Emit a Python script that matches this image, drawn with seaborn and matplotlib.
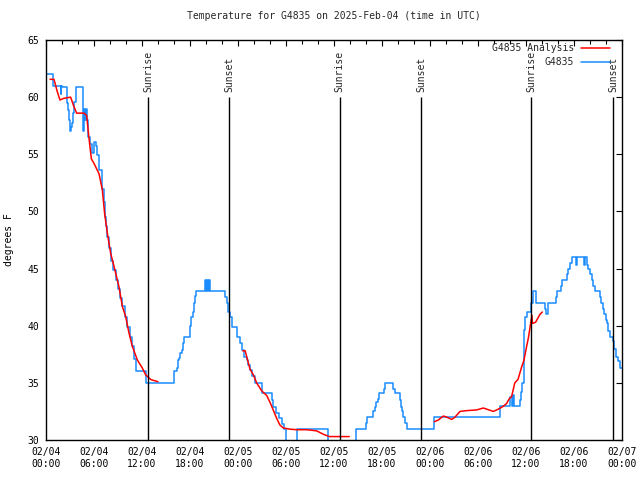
import matplotlib
matplotlib.use('Agg')
import matplotlib.dates as mdates
import matplotlib.pyplot as plt
import pandas as pd
import seaborn as sns

start = pd.Timestamp('2025-02-04 00:00')

# station observations (hours since start, deg F)
obs_hours = [0.0, 0.92, 1.83, 1.9, 2.04, 2.58, 2.7, 2.875, 3.0, 3.08, 3.2, 3.4, 3.55, 3.71,
             4.6, 4.75, 4.85, 4.95, 5.08, 5.25, 5.5, 5.79, 6.0, 6.2, 6.4, 6.6, 7.04, 7.2,
             7.35, 7.55, 7.67, 7.9, 8.08, 8.4, 8.71, 9.0, 9.3, 9.54, 9.85, 10.17, 10.5,
             10.8, 11.0, 11.2, 12.46, 16.04, 16.33, 16.5, 16.67, 16.8, 16.96, 17.1, 17.25,
             18.0, 18.15, 18.33, 18.45, 18.6, 18.75, 19.875, 20.0, 20.1, 20.25, 20.35, 20.5,
             22.375, 22.6, 22.8, 23.0, 23.2, 23.83, 24.25, 24.5, 24.8, 25.08, 25.3, 25.5,
             25.8, 26.1, 26.96, 28.2, 28.4, 28.8, 29.1, 29.46, 29.7, 29.95, 31.33, 35.3,
             38.7, 39.96, 40.1, 40.9, 41.1, 41.3, 41.45, 41.6, 42.2, 42.375, 43.4, 43.6,
             44.25, 44.4, 44.55, 44.67, 44.85, 45.1, 48.5, 56.7, 58.0, 58.2, 58.42, 58.55,
             59.25, 59.4, 59.55, 59.7, 59.75, 59.875, 60.08, 60.58, 60.9, 61.2, 62.375,
             62.55, 62.7, 62.8, 63.75, 63.9, 64.33, 64.45, 65.08, 65.3, 65.5, 65.75, 66.25,
             66.35, 67.3, 67.4, 67.6, 67.7, 68.0, 68.2, 68.4, 68.6, 69.25, 69.4, 69.6,
             69.75, 69.95, 70.08, 70.3, 70.5, 70.9, 71.0, 71.3, 71.5, 71.7, 72.0]
obs_temp = [62, 61, 60.3, 61, 60.9, 59.5, 58.9, 58.0, 57.0, 57.4, 57.7, 58.6, 59.6, 60.9,
            57.0, 59.0, 58.0, 59.0, 58.0, 56.5, 55.9, 55.1, 56.1, 55.7, 54.9, 53.6, 52.0, 50.8,
            49.5, 48.7, 47.8, 46.8, 45.7, 44.9, 44.0, 43.2, 42.4, 41.7, 40.8, 39.9, 39.0,
            38.2, 37.1, 36.0, 35.0, 36.0, 36.3, 37.0, 37.2, 37.6, 37.9, 38.5, 39.0,
            40.0, 40.8, 41.2, 42.0, 42.6, 43.0, 44.0, 43.0, 44.0, 43.0, 44.0, 43.0,
            42.5, 42.0, 41.2, 40.8, 39.9, 39.0, 38.5, 37.9, 37.3, 37.0, 36.6, 36.1,
            35.6, 35.0, 34.1, 33.5, 32.9, 32.4, 31.9, 31.4, 31.0, 29.0, 31.0, 29.0,
            31.0, 31.5, 32.0, 32.5, 32.9, 33.3, 33.6, 34.1, 34.5, 35.0, 34.5, 34.1,
            33.5, 32.9, 32.5, 32.0, 31.5, 31.0, 32.0, 33.0, 33.8, 33.0, 33.9, 33.0,
            33.5, 34.2, 35.0, 37.5, 39.6, 40.8, 41.2, 42.0, 43.0, 42.0, 41.5,
            41.0, 41.5, 42.0, 42.5, 43.0, 43.5, 44.0, 44.5, 45.0, 45.5, 46.0, 45.3,
            46.0, 45.3, 46.0, 45.3, 45.0, 44.5, 44.0, 43.5, 43.0, 42.5, 42.0, 41.5,
            41.0, 40.5, 40.2, 39.5, 39.0, 38.7, 38.0, 37.3, 36.9, 36.3, 36.3]

# analysis, three separate runs
ana1_hours = [0.5, 1.0, 1.4, 1.75, 2.25, 3.08, 3.42, 3.83, 4.75, 5.08, 5.375, 5.67, 6.0,
              6.625, 7.04, 7.33, 7.67, 8.08, 8.5, 9.125, 9.54, 9.96, 10.375, 10.79, 11.42,
              12.04, 12.46, 13.08, 13.5, 14.0]
ana1_temp = [61.56, 61.56, 60.5, 59.75, 59.9, 60.0, 59.3, 58.6, 58.6, 58.4, 56.4, 54.6, 54.2,
             53.3, 51.9, 49.8, 48.1, 46.35, 45.2, 43.4, 41.7, 40.8, 39.35, 38.2, 37.0,
             36.3, 35.7, 35.3, 35.2, 35.1]
ana2_hours = [24.6, 24.9, 25.08, 25.5, 25.92, 26.33, 26.96, 27.58, 28.0, 28.42, 28.83, 29.25,
              29.67, 30.5, 31.33, 32.6, 33.83, 34.67, 35.42, 37.9]
ana2_temp = [37.8, 37.8, 37.3, 36.2, 35.7, 35.0, 34.3, 33.9, 33.3, 32.6, 31.9, 31.3,
             31.05, 30.95, 30.9, 30.9, 30.8, 30.5, 30.3, 30.3]
ana3_hours = [48.54, 49.04, 49.67, 50.08, 50.71, 51.125, 51.75, 52.58, 53.83, 54.67, 55.08,
              55.92, 56.54, 57.17, 57.58, 57.9, 58.2, 58.6, 59.0, 59.46, 59.75, 60.08, 60.29,
              60.58, 60.75, 60.8, 61.2, 61.75, 62.04]
ana3_temp = [31.6, 31.75, 32.1, 32.0, 31.8, 32.0, 32.5, 32.57, 32.63, 32.8, 32.7,
             32.5, 32.7, 32.95, 33.2, 33.6, 33.8, 35.0, 35.3, 36.4, 37.0, 38.2, 38.9,
             40.2, 40.9, 40.2, 40.3, 41.0, 41.2]

sunrise_hours = [12.8, 36.7, 60.67]
sunset_hours = [22.9, 46.9, 70.9]

sns.set_theme(style='white')
plt.rcParams['font.family'] = ['DejaVu Sans Mono']
plt.rcParams['font.size'] = 7

def to_time(hours):
    return start + pd.to_timedelta(hours, unit='h')

obs = pd.DataFrame({'time': to_time(obs_hours), 'temp': obs_temp})
ana = pd.concat([
    pd.DataFrame({'time': to_time(h), 'temp': t, 'run': i})
    for i, (h, t) in enumerate([(ana1_hours, ana1_temp), (ana2_hours, ana2_temp), (ana3_hours, ana3_temp)])
])

fig = plt.figure(figsize=(6.4, 4.8), dpi=100)
ax = fig.add_axes([46 / 640, 40 / 480, 576 / 640, 400 / 480])

sns.lineplot(data=obs, x='time', y='temp', ax=ax, color='#1a8cff', lw=1.1,
             estimator=None, sort=False, drawstyle='steps-post', label='G4835')
sns.lineplot(data=ana, x='time', y='temp', units='run', ax=ax, color='red', lw=1.1,
             estimator=None, sort=False, label='G4835 Analysis')

# sunrise / sunset markers
for hrs, name in [(sunrise_hours, 'Sunrise'), (sunset_hours, 'Sunset')]:
    for h in hrs:
        t = to_time(h)
        ax.vlines(t, 30, 60, color='black', lw=1.0)
        ax.annotate(name, xy=(t, 60), xytext=(0, 4), textcoords='offset points',
                    rotation=90, ha='center', va='bottom', fontsize=7)

ax.set_xlim(start, to_time(72))
ax.set_ylim(30, 65)
ax.set_yticks(range(30, 66, 5))
ax.xaxis.set_major_locator(mdates.HourLocator(byhour=range(0, 24, 6)))
ax.xaxis.set_minor_locator(mdates.HourLocator(byhour=range(0, 24, 2)))
ax.xaxis.set_major_formatter(mdates.DateFormatter('%m/%d\n%H:%M'))
ax.tick_params(which='both', direction='in', top=True, right=True, color='black',
               labelsize=7, labelcolor='black', width=0.8)
ax.tick_params(which='major', length=4, pad=5)
ax.tick_params(which='minor', length=3)
for s in ax.spines.values():
    s.set_color('black')
    s.set_linewidth(1.0)

ax.set_xlabel('')
ax.set_ylabel('degrees F', fontsize=7, color='black')
ax.yaxis.set_label_coords(-0.055, 0.5)
ax.set_title('Temperature for G4835 on 2025-Feb-04 (time in UTC)', fontsize=7, pad=15)

handles, labels = ax.get_legend_handles_labels()
order = [labels.index('G4835 Analysis'), labels.index('G4835')]
ax.legend([handles[i] for i in order], [labels[i] for i in order],
          loc='upper right', bbox_to_anchor=(0.979, 0.9925), frameon=False,
          markerfirst=False, handlelength=3.0, handletextpad=0.7,
          borderaxespad=0, borderpad=0, labelspacing=0.45, fontsize=7)

fig.savefig('out.png', dpi=100)
